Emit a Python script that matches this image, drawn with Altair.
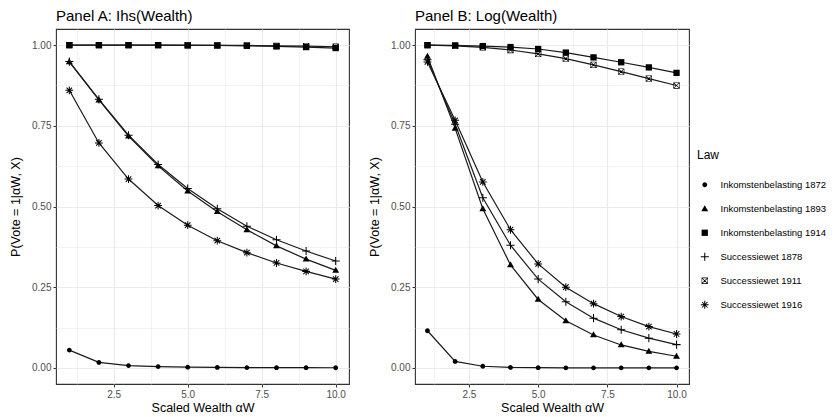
import altair as alt
import pandas as pd

# ---------------- data ----------------
x_vals = [1, 2, 3, 4, 5, 6, 7, 8, 9, 10]
laws = ["Inkomstenbelasting 1872", "Inkomstenbelasting 1893", "Inkomstenbelasting 1914",
        "Successiewet 1878", "Successiewet 1911", "Successiewet 1916"]

ihs_1872 = [0.055, 0.017, 0.007, 0.004, 0.002, 0.0015, 0.001, 0.0007, 0.0005, 0.0004]
ihs_1893 = [0.948, 0.830, 0.718, 0.626, 0.548, 0.484, 0.428, 0.378, 0.337, 0.302]
ihs_1914 = [1.000, 1.000, 1.000, 1.000, 0.999, 0.999, 0.998, 0.996, 0.994, 0.991]
ihs_1878 = [0.949, 0.832, 0.721, 0.630, 0.556, 0.493, 0.439, 0.397, 0.362, 0.331]
ihs_1911 = [1.000, 1.000, 1.000, 1.000, 1.000, 0.999, 0.999, 0.998, 0.997, 0.995]
ihs_1916 = [0.860, 0.697, 0.585, 0.503, 0.442, 0.394, 0.357, 0.325, 0.299, 0.275]

log_1872 = [0.115, 0.020, 0.005, 0.0015, 0.0005, 0.0002, 0.0001, 0.0, 0.0, 0.0]
log_1893 = [0.965, 0.742, 0.493, 0.319, 0.212, 0.146, 0.102, 0.071, 0.051, 0.036]
log_1914 = [1.000, 0.999, 0.997, 0.994, 0.988, 0.977, 0.962, 0.947, 0.931, 0.914]
log_1878 = [0.955, 0.755, 0.527, 0.380, 0.275, 0.205, 0.154, 0.118, 0.092, 0.072]
log_1911 = [1.000, 0.998, 0.993, 0.985, 0.973, 0.958, 0.939, 0.918, 0.896, 0.875]
log_1916 = [0.948, 0.767, 0.576, 0.428, 0.322, 0.250, 0.199, 0.159, 0.128, 0.105]

ihs_series = [ihs_1872, ihs_1893, ihs_1914, ihs_1878, ihs_1911, ihs_1916]
log_series = [log_1872, log_1893, log_1914, log_1878, log_1911, log_1916]


def to_frame(series):
    rows = []
    for law, vals in zip(laws, series):
        for x, v in zip(x_vals, vals):
            rows.append({"Law": law, "x": x, "p": v})
    return pd.DataFrame(rows)


df_a = to_frame(ihs_series)
df_b = to_frame(log_series)

# ---------------- styling ----------------
FONT = "Liberation Sans"
# ggplot-like point shapes, all drawn as filled outlines (thin bars for line glyphs)
shape_range = [
    # 16: filled circle
    "M-0.8,0A0.8,0.8 0 1,0 0.8,0A0.8,0.8 0 1,0 -0.8,0Z",
    # 17: filled triangle
    "M0,-1.2L1.15,0.8L-1.15,0.8Z",
    # 15: filled square
    "M-1.05,-1.05H1.05V1.05H-1.05Z",
    # 3: plus
    "M-1.35,-0.17H1.35V0.17H-1.35Z M-0.17,-1.35H0.17V1.35H-0.17Z",
    # 7: square cross (ring + two diagonals)
    "M-1.05,-1.05H1.05V1.05H-1.05Z M-0.87,-0.87V0.87H0.87V-0.87Z "
    "M-0.87,-1.03L1.03,0.87L0.87,1.03L-1.03,-0.87Z "
    "M1.03,-0.87L-0.87,1.03L-1.03,0.87L0.87,-1.03Z",
    # 8: asterisk
    "M-1.3,-0.17H1.3V0.17H-1.3Z M-0.17,-1.3H0.17V1.3H-0.17Z "
    "M-0.8,-1.04L1.04,0.8L0.8,1.04L-1.04,-0.8Z "
    "M1.04,-0.8L-0.8,1.04L-1.04,0.8L0.8,-1.04Z",
]

legend = alt.Legend(title="Law", orient="none", legendX=641, legendY=121,
                    symbolOffset=3, labelOffset=11, rowPadding=13, titlePadding=18,
                    padding=0, symbolFillColor="black", symbolStrokeWidth=0,
                    symbolSize=36)

x_minor = "datum.value % 2.5 !== 0"
y_minor = "datum.value % 0.25 !== 0"

x_axis = alt.Axis(
    values=[1.25, 2.5, 3.75, 5, 6.25, 7.5, 8.75, 10],
    labelExpr="datum.value % 2.5 === 0 ? format(datum.value, '.1f') : ''",
    gridWidth={"condition": {"test": x_minor, "value": 0.6}, "value": 1.2},
    tickOpacity={"condition": {"test": x_minor, "value": 0}, "value": 1},
    labelOverlap=False, labelFlush=False,
)
y_axis = alt.Axis(
    values=[0, 0.125, 0.25, 0.375, 0.5, 0.625, 0.75, 0.875, 1.0],
    labelExpr="datum.value % 0.25 === 0 ? format(datum.value, '.2f') : ''",
    gridWidth={"condition": {"test": y_minor, "value": 0.6}, "value": 1.2},
    tickOpacity={"condition": {"test": y_minor, "value": 0}, "value": 1},
    labelOverlap=False, labelFlush=False,
)


def panel(df, title, width):
    base = alt.Chart(df)
    xenc = alt.X("x:Q", title="Scaled Wealth \u03b1W",
                 scale=alt.Scale(domain=[0.55, 10.45], nice=False, zero=False), axis=x_axis)
    yenc = alt.Y("p:Q", title="P(Vote = 1|\u03b1W, X)",
                 scale=alt.Scale(domain=[-0.05, 1.05], nice=False, zero=False), axis=y_axis)
    lines = base.mark_line(color="#1a1a1a", strokeWidth=1.2).encode(
        x=xenc, y=yenc, detail="Law:N")
    pts = base.mark_point(filled=True, color="black", size=36, opacity=1).encode(
        x=xenc, y=yenc,
        shape=alt.Shape("Law:N", scale=alt.Scale(domain=laws, range=shape_range), legend=legend),
    )
    return alt.layer(lines, pts).properties(
        width=width, height=355,
        title=alt.TitleParams(title, anchor="start", frame="group"),
    )


chart = alt.hconcat(
    panel(df_a, "Panel A: Ihs(Wealth)", 293),
    panel(df_b, "Panel B: Log(Wealth)", 274),
    spacing=17,
).properties(padding=0, background="white").configure_view(
    stroke="#333333", strokeWidth=1.1
).configure_axis(
    domain=False, grid=True, gridColor="#ebebeb",
    tickColor="#333333", tickSize=3, labelPadding=2,
    labelFont=FONT, labelFontSize=10, labelColor="#4d4d4d",
    titleFont=FONT, titleFontSize=12.5, titleFontWeight="normal", titleColor="black",
).configure_axisY(titlePadding=9).configure_axisX(titlePadding=2).configure_title(
    font=FONT, fontSize=15, fontWeight="normal", color="black", offset=5,
).configure_legend(
    titleFont=FONT, titleFontSize=12, titleFontWeight="normal", titleColor="black",
    labelFont=FONT, labelFontSize=9.5, labelColor="black",
)

chart.save("out.html", embed_options={"renderer": "svg", "actions": False})
